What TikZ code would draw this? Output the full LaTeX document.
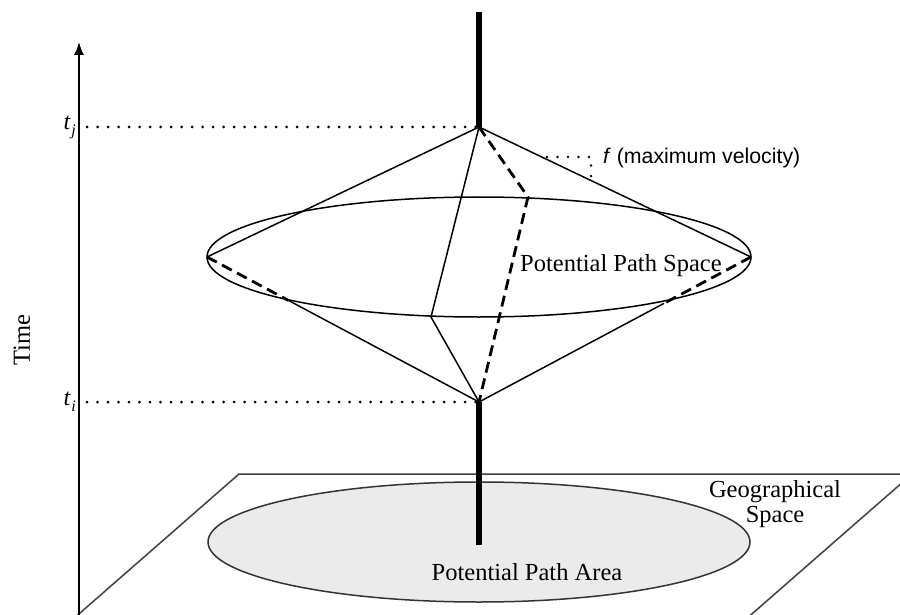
\documentclass[tikz,border=0pt]{standalone}
\usepackage{fontspec}
\setmainfont{Liberation Serif}
\newfontfamily\velfont{Liberation Sans}
\usetikzlibrary{arrows.meta,calc}
\tikzset{
    edge/.style={line width=1.5pt},
    hidden/.style={line width=2.8pt,dash pattern=on 11pt off 6pt},
    dotline/.style={line width=3pt,line cap=round,dash pattern=on 0pt off 10.5pt},
    stem/.style={line width=6pt},
    lbl/.style={font=\fontsize{24.5}{28}\selectfont,inner sep=0pt},
    tlbl/.style={anchor=base east,inner sep=0pt,font=\fontsize{24}{28}\selectfont\itshape}
}
\newcommand{\tsub}[1]{t\hspace{1pt}\raisebox{-6pt}{\fontsize{16}{18}\selectfont #1}}
\begin{document}
\begin{tikzpicture}[x=1pt,y=-1pt]
            \useasboundingbox (0,0) rectangle (900,615);
            \coordinate (axbot) at (79,615);
            \coordinate (axtop) at (79,42);
            \coordinate (tj) at (479,127);
            \coordinate (ti) at (479,402);
            \coordinate (tjax) at (87,127);
            \coordinate (tiax) at (87,402);
            \coordinate (west) at (207,257);
            \coordinate (east) at (751,257);
            \coordinate (front) at (431,317);
            \coordinate (back) at (528,197);
            \coordinate (wcut) at ($(west)!0.3!(ti)$);
            \coordinate (ecut) at ($(east)!0.32!(ti)$);
            \coordinate (stemtop) at (479,12);
            \coordinate (stembot) at (479,545);
            \coordinate (fa) at (547,157);
            \coordinate (fb) at (591,157);
            \coordinate (fc) at (591,177);
            \begin{scope}
                \clip (0,0) rectangle (900,615);
                \draw[edge,black!75] (72,620) -- (239,474) -- (912,474) -- (745,620);
            \end{scope}
            \draw[edge,black!80,fill=black!8] (479,542) ellipse [x radius=271pt,y radius=60pt];
            \draw[-{Latex[length=13pt,width=10pt]},line width=1.5pt] (axbot) -- (axtop);
            \draw[dotline] (tjax) -- (tj);
            \draw[dotline] (tiax) -- (ti);
            \draw[edge] (479,257) ellipse [x radius=272pt,y radius=60pt];
            \draw[edge] (west) -- (tj) -- (east);
            \draw[edge] (tj) -- (front) -- (ti);
            \draw[edge] (wcut) -- (ti) -- (ecut);
            \draw[hidden] (west) -- (wcut);
            \draw[hidden] (east) -- (ecut);
            \draw[hidden] (tj) -- (back) -- (ti);
            \draw[stem] (stemtop) -- (tj);
            \draw[stem] (ti) -- (stembot);
            \draw[dotline,line width=2.6pt] (fa) -- (fb) -- (fc);
            \node (fvel) [anchor=west,inner sep=0pt,font=\velfont\fontsize{21.3}{24}\selectfont] at (603,158) {\textit{f} (maximum velocity)};
            \node (tjlab) [tlbl] at (76,130) {\tsub{j}};
            \node (tilab) [tlbl] at (76,405) {\tsub{i}};
            \node (time) [lbl,rotate=90] at (22,340) {Time};
            \node (pps) [lbl,anchor=base west] at (520,271) {Potential Path Space};
            \node (ppa) [lbl,anchor=base] at (527,580) {Potential Path Area};
            \node (geo) [lbl,anchor=base] at (775,497) {Geographical};
            \node (geospace) [lbl,anchor=base] at (775,522) {Space};
        \end{tikzpicture}
\end{document}
